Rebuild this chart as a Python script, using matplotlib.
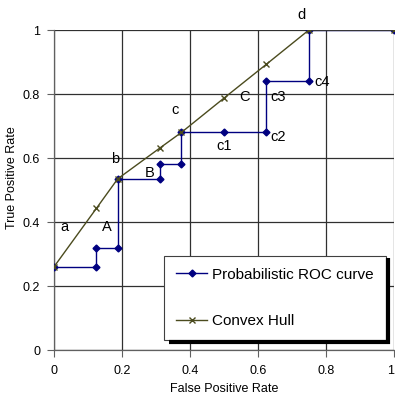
import matplotlib

matplotlib.use("Agg")
import matplotlib.pyplot as plt

plt.rcParams["font.family"] = ["Liberation Sans", "DejaVu Sans"]

# Probabilistic ROC curve (step path through the scored points)
roc_fpr = [0.0, 0.125, 0.125, 0.1875, 0.1875, 0.3125, 0.3125, 0.375, 0.375,
           0.5, 0.625, 0.625, 0.75, 0.75, 1.0]
roc_tpr = [0.26, 0.26, 0.32, 0.32, 0.535, 0.535, 0.58, 0.58, 0.68,
           0.68, 0.68, 0.84, 0.84, 1.0, 1.0]

# Convex hull, with the marks
hull_fpr = [0.0, 0.125, 0.1875, 0.3125, 0.375, 0.5, 0.625, 0.75, 1.0]
hull_tpr = [0.26, 0.443, 0.535, 0.632, 0.68, 0.787, 0.893, 1.0, 1.0]

# point annotations: (text, x, y)
point_labels = [
    ("a", 0.032, 0.384), ("A", 0.155, 0.384),
    ("b", 0.18, 0.597), ("B", 0.28, 0.553),
    ("c", 0.355, 0.75), ("c1", 0.5, 0.638),
    ("C", 0.56, 0.79), ("c2", 0.66, 0.666),
    ("c3", 0.66, 0.79), ("c4", 0.79, 0.838),
    ("d", 0.727, 1.047),
]

ticks = [0, 0.2, 0.4, 0.6, 0.8, 1]
tick_labels = ["0", "0.2", "0.4", "0.6", "0.8", "1"]

fig = plt.figure(figsize=(3.95, 4.03), dpi=100)
ax = fig.add_axes([0.1367, 0.1315, 0.8603, 0.794])

ax.plot(roc_fpr, roc_tpr, color="#000080", lw=1, marker="D", markersize=3.5,
        label="Probabilistic ROC curve", zorder=3)
ax.plot(hull_fpr, hull_tpr, color="#4b4b1e", lw=1, marker="x", markersize=5,
        markeredgewidth=1, label="Convex Hull", zorder=4)

for txt, x, y in point_labels:
    ax.text(x, y, txt, fontsize=10.5, ha="center", va="center", zorder=5)

ax.set_xlim(0, 1)
ax.set_ylim(0, 1)
ax.set_xticks(ticks)
ax.set_xticklabels(tick_labels)
ax.set_yticks(ticks)
ax.set_yticklabels(tick_labels)
# last x label sits on the picture edge; pull it inside
ax.get_xticklabels()[-1].set_horizontalalignment("right")
ax.grid(True, color="#303030", lw=0.9)
ax.set_axisbelow(True)
ax.tick_params(direction="out", length=5, width=0.8, color="#606060",
               labelsize=9)
ax.tick_params(axis="y", pad=5)
ax.tick_params(axis="x", pad=6)
for side in ["top", "right"]:
    ax.spines[side].set_visible(False)
for side in ["left", "bottom"]:
    ax.spines[side].set_color("#606060")
    ax.spines[side].set_linewidth(0.9)

ax.set_xlabel("False Positive Rate", fontsize=9, labelpad=4)
ax.set_ylabel("True Positive Rate", fontsize=9)
ax.yaxis.set_label_coords(-0.106, 0.54)

# legend box position in axes fraction
leg_x0, leg_y0, leg_x1, leg_y1 = 0.33, 0.031, 0.977, 0.297

leg = ax.legend(loc="lower right", bbox_to_anchor=(leg_x1, leg_y0), fontsize=11,
                handlelength=2.0, handletextpad=0.35, borderpad=0.8,
                labelspacing=2.1, borderaxespad=0, fancybox=False,
                framealpha=1, edgecolor="#404040")
leg.get_frame().set_linewidth(0.8)

# solid black drop shadow along the right and bottom of the legend box
sx, sy = 0.009, 0.009
ax.plot([leg_x0 + sx, leg_x1 + sx * 0.5, leg_x1 + sx * 0.5],
        [leg_y0 - sy * 0.5, leg_y0 - sy * 0.5, leg_y1 - sy],
        transform=ax.transAxes, color="black", lw=3, solid_capstyle="butt",
        solid_joinstyle="miter", clip_on=False, zorder=10)

fig.savefig("out.png", dpi=100)
